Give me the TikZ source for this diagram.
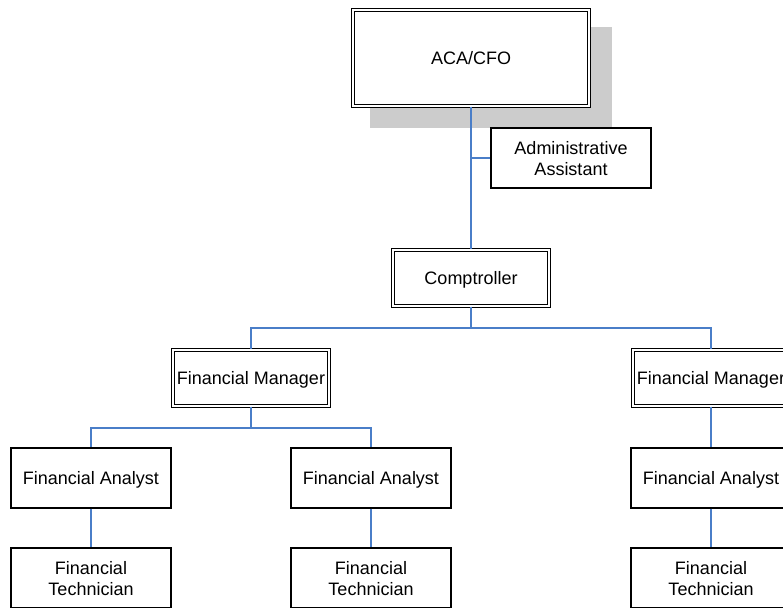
\documentclass[tikz,border=0pt]{standalone}
\usepackage{fontspec}
\setmainfont{Liberation Sans}
\begin{document}
\begin{tikzpicture}[x=1pt,y=-1pt,
  every node/.style={font=\fontsize{18}{21}\selectfont, align=center, inner sep=0pt, text depth=0pt},
  unitbox/.style={draw=black, line width=1.4pt, fill=white, minimum width=160, minimum height=60},
  headbox/.style={draw=black, line width=1.2pt, double=white, double distance=2.4pt, fill=white},
  link/.style={draw={rgb,255:red,74;green,126;blue,200}, line width=1.4pt}]
\useasboundingbox (0,0) rectangle (783,607);

% drop shadow behind the top box
\fill[gray!40] (370,27) rectangle (612,128);

% top of the chart
\node[headbox, minimum width=236, minimum height=96] (cfo) at (471,58) {ACA/CFO};
\node[unitbox] (admin) at (571,158) {Administrative\\Assistant};
\node[headbox, minimum width=156, minimum height=56] (comp) at (471,278) {Comptroller};

% managers
\node[headbox, minimum width=156, minimum height=56] (fmA) at (251,378) {Financial Manager};
\node[headbox, minimum width=156, minimum height=56] (fmB) at (711,378) {Financial Manager};

% analysts
\node[unitbox] (faA) at (91,478) {Financial Analyst};
\node[unitbox] (faB) at (371,478) {Financial Analyst};
\node[unitbox] (faC) at (711,478) {Financial Analyst};

% technicians
\node[unitbox] (ftA) at (91,578) {Financial\\Technician};
\node[unitbox] (ftB) at (371,578) {Financial\\Technician};
\node[unitbox] (ftC) at (711,578) {Financial\\Technician};

% reporting lines
\coordinate (tap) at (471,158);
\draw[link] (cfo.south) -- (comp.north);
\draw[link] (tap) -- (admin.west);
\coordinate (compbus) at (471,328);
\draw[link] (comp.south) -- (compbus);
\draw[link] (compbus) -| (fmA.north);
\draw[link] (compbus) -| (fmB.north);
\coordinate (fmbus) at (251,428);
\draw[link] (fmA.south) -- (fmbus);
\draw[link] (fmbus) -| (faA.north);
\draw[link] (fmbus) -| (faB.north);
\draw[link] (fmB.south) -- (faC.north);
\draw[link] (faA.south) -- (ftA.north);
\draw[link] (faB.south) -- (ftB.north);
\draw[link] (faC.south) -- (ftC.north);
\end{tikzpicture}
\end{document}
